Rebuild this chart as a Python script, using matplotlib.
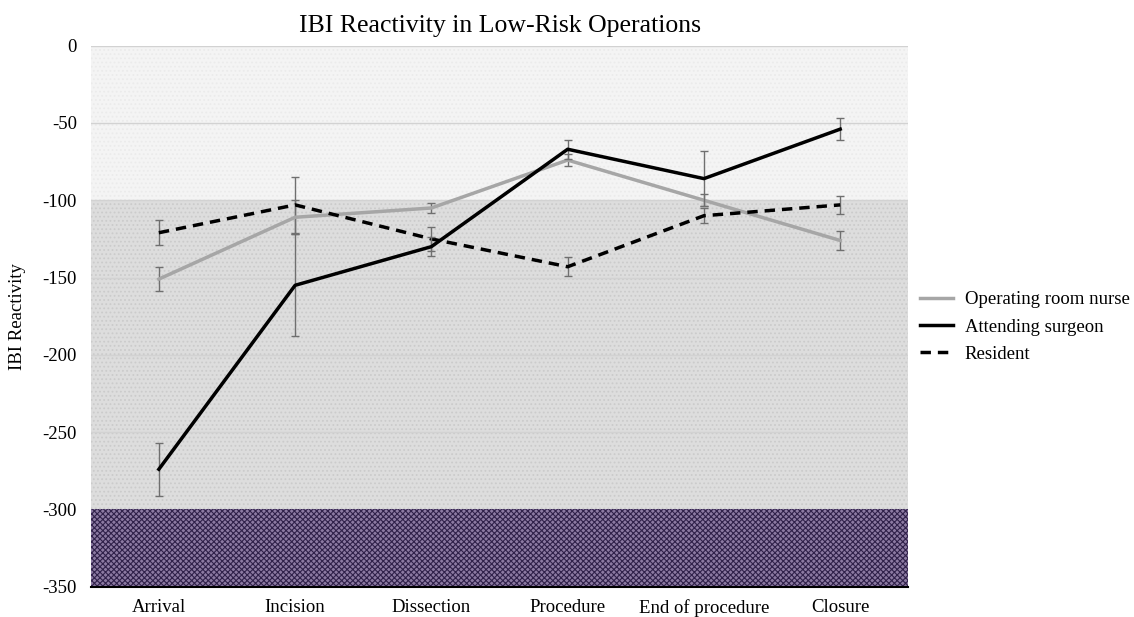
import matplotlib
matplotlib.use("Agg")
import matplotlib.pyplot as plt
import numpy as np
from matplotlib.lines import Line2D

categories = ["Arrival", "Incision", "Dissection", "Procedure", "End of procedure", "Closure"]
nurse = [-151, -111, -105, -74, -100, -126]
nurse_err = [8, 11, 3, 4, 4, 6]
attending = [-274, -155, -130, -67, -86, -54]
attending_err = [17, 33, 6, 6, 18, 7]
resident = [-121, -103, -125, -143, -110, -103]
resident_err = [8, 18, 8, 6, 5, 6]
yticks = [0, -50, -100, -150, -200, -250, -300, -350]
legend_labels = ['Operating room nurse', 'Attending surgeon', 'Resident']

plt.rcParams['font.family'] = ['Liberation Serif', 'DejaVu Serif']
plt.rcParams['axes.unicode_minus'] = False
plt.rcParams['hatch.linewidth'] = 0.8

fig = plt.figure(figsize=(11.34, 6.17), dpi=100)
ax = fig.add_axes([0.080, 0.049, 0.721, 0.877])

x = np.arange(len(categories))
ax.set_xlim(-0.5, len(categories) - 0.5)
ax.set_ylim(-350, 0)

ax.axhspan(-100, 0, facecolor='#f4f4f4', edgecolor='#ebebeb', hatch='....', linewidth=0, zorder=0)
ax.axhspan(-300, -100, facecolor='#dddddd', edgecolor='#cbcbcb', hatch='....', linewidth=0, zorder=0)
ax.axhspan(-350, -300, facecolor='#8c7aa2', edgecolor='#30214a', hatch='xxxxxx', linewidth=0, zorder=0)

for yv in yticks[:-2]:
    ax.axhline(yv, color='#d2d2d2', lw=1.0, zorder=1)

ax.errorbar(x, nurse, yerr=nurse_err, color='#a6a6a6', lw=2.5, ecolor='#6f6f6f', elinewidth=1, capsize=3, zorder=3)
ax.errorbar(x, attending, yerr=attending_err, color='black', lw=2.5, ecolor='#6f6f6f', elinewidth=1, capsize=3, zorder=4)
ax.errorbar(x, resident, yerr=resident_err, color='black', lw=2.5, ls=(0, (3, 2)), ecolor='#6f6f6f', elinewidth=1, capsize=3, zorder=3)

ax.set_xticks(x)
ax.set_xticklabels(categories)
ax.set_yticks(yticks)
ax.tick_params(axis='both', length=0, labelsize=13.5)
ax.tick_params(axis='y', pad=10)
ax.tick_params(axis='x', pad=9)
for s in ['left', 'right', 'top']:
    ax.spines[s].set_visible(False)
ax.spines['bottom'].set_linewidth(1.5)
ax.spines['bottom'].set_zorder(5)

ax.set_ylabel('IBI Reactivity', fontsize=13.5, labelpad=12)
ax.set_title('IBI Reactivity in Low-Risk Operations', fontsize=18.5, pad=10)

h = [Line2D([], [], color='#a6a6a6', lw=2.5), Line2D([], [], color='black', lw=2.5),
     Line2D([], [], color='black', lw=2.5, ls=(0, (3, 2)))]
ax.legend(h, legend_labels, loc='center left', bbox_to_anchor=(1.0, 0.48), frameon=False, fontsize=13.5,
          handlelength=1.8, handletextpad=0.6, borderaxespad=0.2, labelspacing=0.55)

fig.savefig('out.png', dpi=100)
